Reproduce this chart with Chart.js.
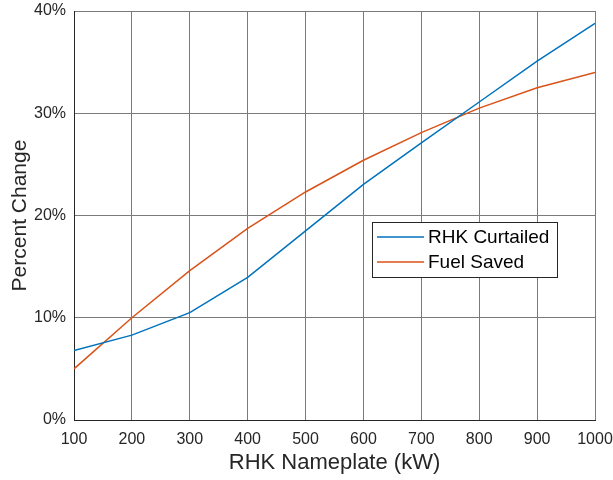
<!DOCTYPE html>
<html>
<head>
<meta charset="utf-8">
<script src="https://cdn.jsdelivr.net/npm/chart.js@4"></script>
<style>
  html, body { margin: 0; padding: 0; background: #fff; }
  #wrap { width: 613px; height: 480px; }
</style>
</head>
<body>
<div id="wrap"><canvas id="chart"></canvas></div>
<script>
// nameplate sizes (kW)
const nameplate = [100, 200, 300, 400, 500, 600, 700, 800, 900, 1000];
// percent change
const rhkCurtailed = [6.8, 8.3, 10.5, 13.95, 18.5, 23.05, 27.1, 31.1, 35.1, 38.8];
const fuelSaved = [5.0, 10.0, 14.6, 18.75, 22.3, 25.4, 28.1, 30.5, 32.5, 34.0];
const seriesNames = ["RHK Curtailed", "Fuel Saved"];
const seriesColors = ["#0072BD", "#D95319"];

const FONT = "'Liberation Sans', Arial, sans-serif";
const TEXT = "#262626";

// legend drawn inside the axes, like the matlab one
const insideLegend = {
    id: "insideLegend",
    afterDraw(chart) {
        const ctx = chart.ctx;
        const area = chart.chartArea;
        const x = area.left + 298, y = area.top + 211, w = 185, h = 55;
        ctx.save();
        ctx.fillStyle = "#fff";
        ctx.fillRect(x, y, w, h);
        ctx.strokeStyle = TEXT;
        ctx.lineWidth = 1;
        ctx.strokeRect(x + 0.5, y + 0.5, w, h);
        ctx.font = "19px " + FONT;
        ctx.textBaseline = "middle";
        chart.data.datasets.forEach((ds, i) => {
            const ly = y + 15 + i * 25;
            ctx.strokeStyle = ds.borderColor;
            ctx.lineWidth = 1.5;
            ctx.beginPath();
            ctx.moveTo(x + 5, ly);
            ctx.lineTo(x + 52, ly);
            ctx.stroke();
            ctx.fillStyle = "#000";
            ctx.fillText(ds.label, x + 56, ly + 1);
        });
        ctx.restore();
    }
};

// no extra room for overflowing tick labels
const noOverflow = s => {
    s.paddingLeft = 0;
    s.paddingRight = 0;
    s.paddingTop = 0;
    s.paddingBottom = 0;
};

const ctx = document.getElementById("chart").getContext("2d");
new Chart(ctx, {
    type: "line",
    data: {
        datasets: [
            {
                label: seriesNames[0],
                data: nameplate.map((v, i) => ({ x: v, y: rhkCurtailed[i] })),
                borderColor: seriesColors[0],
                borderWidth: 1.5,
                pointRadius: 0,
                tension: 0
            },
            {
                label: seriesNames[1],
                data: nameplate.map((v, i) => ({ x: v, y: fuelSaved[i] })),
                borderColor: seriesColors[1],
                borderWidth: 1.5,
                pointRadius: 0,
                tension: 0
            }
        ]
    },
    options: {
        responsive: true,
        maintainAspectRatio: false,
        animation: false,
        layout: { padding: { top: 11, right: 18, left: 0, bottom: 0 } },
        plugins: {
            legend: { display: false },
            tooltip: { enabled: false }
        },
        scales: {
            x: {
                type: "linear",
                min: 100,
                max: 1000,
                afterFit: s => { s.height = 60; noOverflow(s); },
                ticks: {
                    stepSize: 100,
                    color: TEXT,
                    font: { family: FONT, size: 16 },
                    padding: 10,
                    maxRotation: 0,
                    callback: v => String(v)
                },
                grid: { color: "#7a7a7a", drawTicks: false },
                border: { color: TEXT, width: 1 },
                title: {
                    display: true,
                    text: "RHK Nameplate (kW)",
                    color: TEXT,
                    font: { family: FONT, size: 22 },
                    padding: { top: 4 }
                }
            },
            y: {
                min: 0,
                max: 40,
                afterFit: s => { s.width = 74; noOverflow(s); },
                ticks: {
                    stepSize: 10,
                    color: TEXT,
                    font: { family: FONT, size: 16 },
                    padding: 8,
                    callback: v => v + "%"
                },
                grid: { color: "#7a7a7a", drawTicks: false },
                border: { color: TEXT, width: 1 },
                title: {
                    display: true,
                    text: "Percent Change",
                    color: TEXT,
                    font: { family: FONT, size: 21 },
                    padding: { top: 8, bottom: 0 }
                }
            }
        }
    },
    plugins: [insideLegend]
});
</script>
</body>
</html>
